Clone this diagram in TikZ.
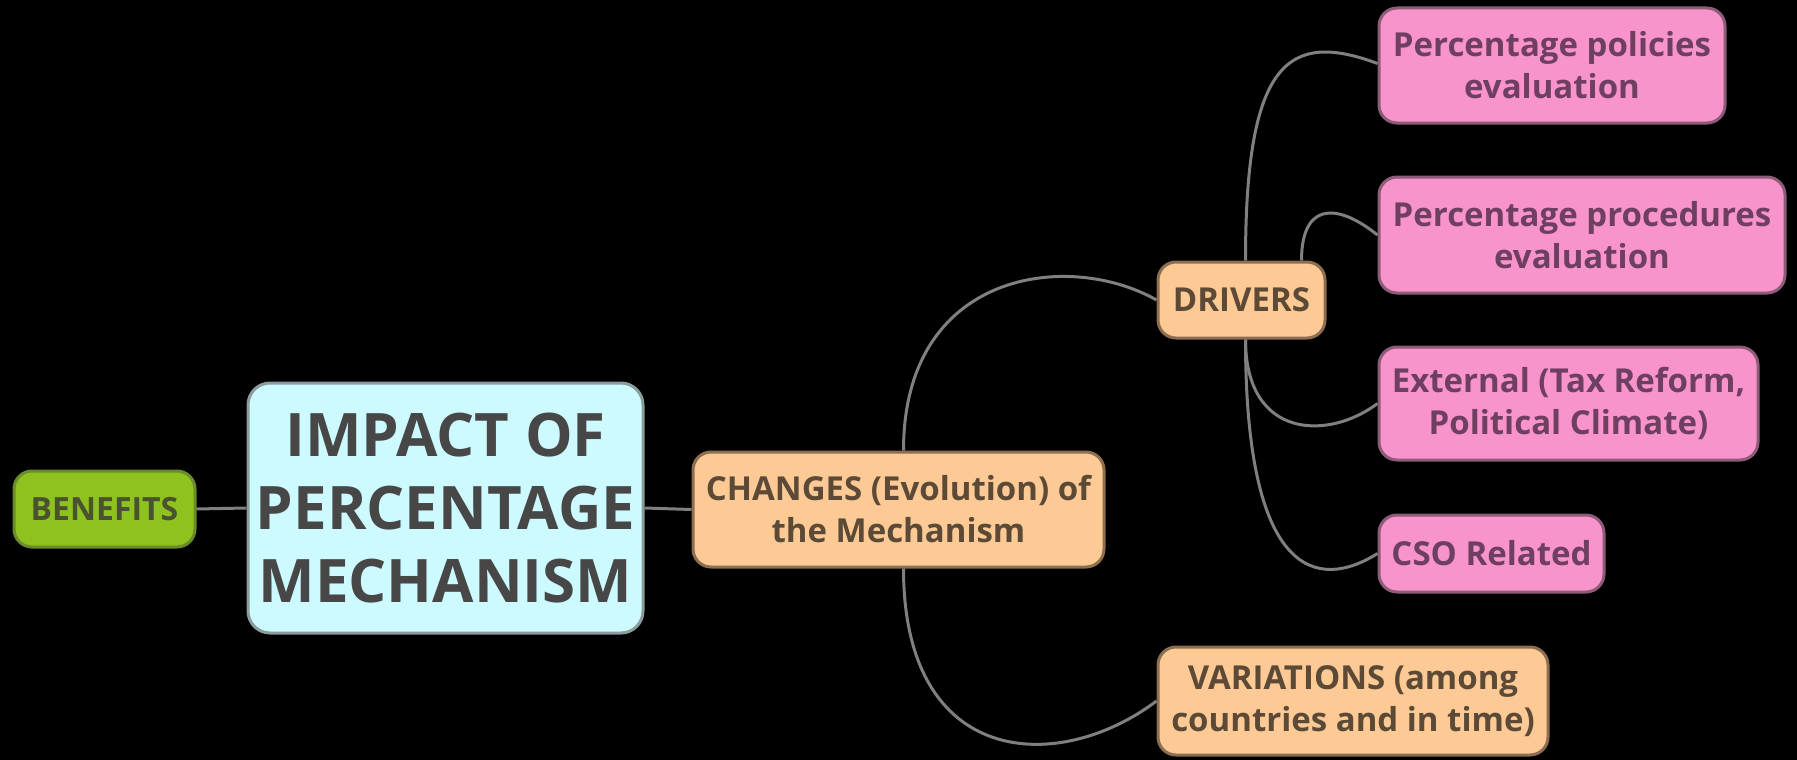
\documentclass[tikz,border=0pt]{standalone}
\usepackage{fontspec}
\setmainfont{Open Sans}
\definecolor{bgreen}{HTML}{8DC21F}
\definecolor{bgreenB}{HTML}{6A8C2A}
\definecolor{bgreenT}{HTML}{4A5230}
\definecolor{cyanF}{HTML}{CCFAFF}
\definecolor{cyanB}{HTML}{8A9C9C}
\definecolor{cyanT}{HTML}{474747}
\definecolor{orF}{HTML}{FDCA96}
\definecolor{orB}{HTML}{8E6E50}
\definecolor{orT}{HTML}{5C4A36}
\definecolor{pkF}{HTML}{F893CB}
\definecolor{pkB}{HTML}{8C5C78}
\definecolor{pkT}{HTML}{6E3F60}
\definecolor{lineC}{HTML}{808080}
\tikzset{
  box/.style={draw, line width=3pt, rounded corners=18pt, align=center, inner sep=0pt,
    font=\bfseries\fontsize{33}{42}\selectfont},
  greenbox/.style={box, fill=bgreen, draw=bgreenB, text=bgreenT, font=\bfseries\fontsize{32}{40}\selectfont},
  mainbox/.style={box, fill=cyanF, draw=cyanB, text=cyanT, rounded corners=22pt, font=\bfseries\fontsize{60}{73}\selectfont},
  orbox/.style={box, fill=orF, draw=orB, text=orT},
  pkbox/.style={box, fill=pkF, draw=pkB, text=pkT},
  conn/.style={draw=lineC, line width=3pt}
}
\begin{document}
\begin{tikzpicture}[x=1pt,y=-1pt]
\fill[black] (0,0) rectangle (1797,760);
\useasboundingbox (0,0) rectangle (1797,760);

\node[greenbox, minimum width=181, minimum height=76] (benefits) at (104.5,509) {BENEFITS};
\node[mainbox, minimum width=395, minimum height=250] (impact) at (445.5,508) {IMPACT OF\\PERCENTAGE\\MECHANISM};
\node[orbox, minimum width=411, minimum height=115] (changes) at (898.5,509.5) {CHANGES (Evolution) of\\the Mechanism};
\node[orbox, minimum width=167, minimum height=76] (drivers) at (1241.5,300) {DRIVERS};
\node[orbox, minimum width=390, minimum height=108] (variations) at (1353,701) {VARIATIONS (among\\countries and in time)};
\node[pkbox, minimum width=346, minimum height=115] (policies) at (1552,65.5) {Percentage policies\\evaluation};
\node[pkbox, minimum width=406, minimum height=116] (procedures) at (1582,235) {Percentage procedures\\evaluation};
\node[pkbox, minimum width=379, minimum height=113] (external) at (1568.5,403.5) {External (Tax Reform,\\Political Climate)};
\node[pkbox, minimum width=225, minimum height=77] (cso) at (1491.5,553.5) {CSO Related};

\draw[conn] (benefits.east) -- (impact.west);
\draw[conn] (impact.east) -- (changes.west);
\draw[conn] ([xshift=5pt]changes.north) .. controls +(0,-180) and +(-88,-50) .. (drivers.west);
\draw[conn] ([xshift=5pt]changes.south) .. controls +(0,200) and +(-98,74) .. (variations.west);
\draw[conn] ([xshift=4pt]drivers.north) .. controls +(0,-200) and +(-89,-33) .. ([yshift=2pt]policies.west);
\draw[conn] ([xshift=60pt]drivers.north) .. controls +(0,-55) and +(-44,-35) .. (procedures.west);
\draw[conn] ([xshift=4pt]drivers.south) .. controls +(0,100) and +(-49,37) .. (external.west);
\draw[conn] ([xshift=4pt]drivers.south) .. controls +(0,240) and +(-59,37) .. (cso.west);
\end{tikzpicture}
\end{document}
